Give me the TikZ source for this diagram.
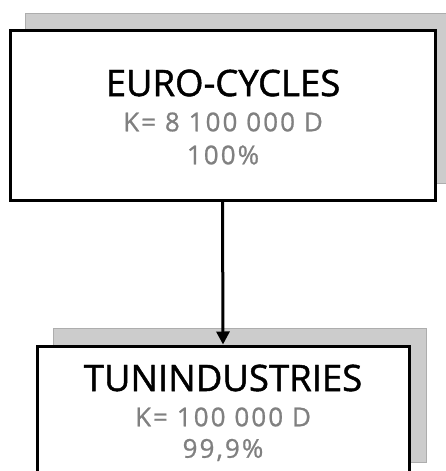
\documentclass[tikz,border=0pt]{standalone}
\usepackage{fontspec}
\setmainfont{Open Sans}
\newfontfamily\titlefont[FakeBold=1.2]{Open Sans}
\newfontfamily\subfont[FakeBold=0.8,LetterSpace=8]{Open Sans}
\usetikzlibrary{arrows.meta}
\definecolor{txtgray}{RGB}{128,128,128}
\definecolor{shadowgray}{RGB}{204,204,204}
\tikzset{
  boxframe/.style={draw=black, line width=3pt, fill=white, inner sep=0pt},
  shadowbox/.style={fill=shadowgray, draw=shadowgray!85!black, line width=0.4pt},
  titletext/.style={font=\titlefont\fontsize{36.5}{36}\selectfont, inner sep=0pt, anchor=center},
  subtext/.style={font=\subfont\fontsize{26}{26}\selectfont, text=txtgray, inner sep=0pt, anchor=center},
  link/.style={line width=3pt, -{Triangle[length=13pt,width=13pt]}}
}
\begin{document}
\begin{tikzpicture}[x=1pt,y=-1pt]
\useasboundingbox (0,0) rectangle (446,471);
\clip (0,0) rectangle (446,471);
% shadows
\path[shadowbox] (25,13) rectangle (460,183);
\path[shadowbox] (53,328) rectangle (426,462);
% boxes
\node[boxframe, minimum width=425pt, minimum height=170pt] (top) at (222.5,115) {};
\node[boxframe, minimum width=372pt, minimum height=144pt] (bot) at (223,418) {};
% texts
\node[titletext] (t1) at (223,83) {EURO-CYCLES};
\node[subtext] (k1) at (223,122) {K= 8 100 000 D};
\node[subtext] (p1) at (223,155) {100\%};
\node[titletext] (t2) at (223,378) {TUNINDUSTRIES};
\node[subtext] (k2) at (223,417) {K= 100 000 D};
\node[subtext] (p2) at (223,450) {99,9\%};
% connector
\draw[link] (top.south) -- (bot.north);
\end{tikzpicture}
\end{document}
